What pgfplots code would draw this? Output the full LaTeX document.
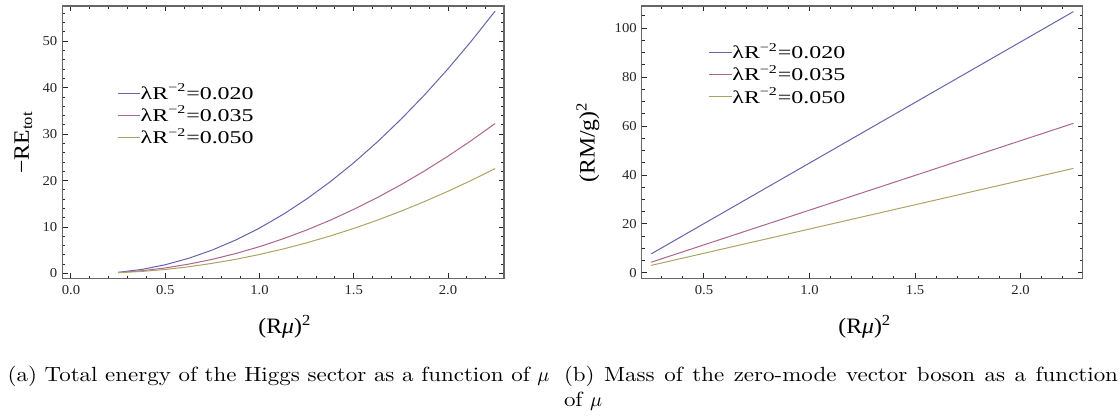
\documentclass[border=0pt]{standalone}
\usepackage{fontspec}
\usepackage{pgfplots}
\pgfplotsset{compat=1.18}

\newfontfamily\tms[FakeStretch=1.08]{Liberation Serif}
\newfontfamily\legf[FakeStretch=1.33]{Liberation Serif}
\newfontfamily\capf[FakeStretch=1.12]{Latin Modern Roman}

\definecolor{mblue}{rgb}{0.24,0.24,0.6}
\definecolor{mred}{rgb}{0.6,0.24,0.4428}
\definecolor{mgold}{rgb}{0.6,0.547,0.24}
\colorlet{cblue}{mblue!80!white}
\colorlet{cred}{mred!80!white}
\colorlet{cgold}{mgold!80!white}

\pgfplotsset{
  mma/.style={
    scale only axis,
    axis line style={black!60, line width=0.6pt},
    every tick/.style={black!85, line width=0.5pt},
    major tick length=2.6pt,
    minor tick length=1.4pt,
    tick align=inside,
    /pgf/number format/assume math mode=true,
    tick label style={font=\tms\fontsize{6.8}{8}\selectfont, text=black!85},
    xticklabel style={inner sep=0pt, yshift=-3.1pt},
    yticklabel style={inner sep=0pt, xshift=-2.3pt},
    label style={font=\tms\fontsize{11}{13}\selectfont},
    legend style={draw=none, fill=none, anchor=north west, inner sep=0pt,
      font=\legf\fontsize{9}{11}\selectfont,
      nodes={inner sep=0pt, text height=7.5pt, text depth=3.6pt},
      column sep=0pt, row sep=0pt, cells={anchor=base west}},
    legend image code/.code={\draw[#1, line width=0.55pt] (0pt,3.1pt) -- (11.3pt,3.1pt);},
    every axis plot/.append style={line width=0.5pt, no marks},
  }
}

\begin{document}
\begin{tikzpicture}
\path[use as bounding box] (0,0) rectangle (560pt,208pt);

% (a) total energy
\begin{axis}[mma,
  at={(31.15pt,68.65pt)}, anchor=south west,
  width=220.85pt, height=136.35pt,
  xmin=-0.046, xmax=2.297, ymin=-1.13, ymax=57.6,
  xtick={0,0.5,1.0,1.5,2.0},
  minor xtick={0.1,0.2,0.3,0.4,0.6,0.7,0.8,0.9,1.1,1.2,1.3,1.4,1.6,1.7,1.8,1.9,2.1,2.2},
  ytick={0,10,20,30,40,50},
  minor ytick={2,4,6,8,12,14,16,18,22,24,26,28,32,34,36,38,42,44,46,48,52,54,56},
  xticklabel style={/pgf/number format/.cd, fixed, fixed zerofill, precision=1},
  xlabel={(R\textit{μ})\textsuperscript{2}},
  ylabel={−RE\textsubscript{tot}},
  xlabel style={at={(axis description cs:0.504,-0.177)}, anchor=center},
  ylabel style={at={(axis description cs:-0.088,0.5)}, anchor=center},
  legend style={at={(axis description cs:0.123,0.714)}},
]
\addplot[draw=cblue] coordinates {
(0.25,0.24) (0.375,0.86) (0.5,1.87) (0.625,3.27) (0.75,5.05) (0.875,7.22)
(1.0,9.77) (1.125,12.71) (1.25,16.03) (1.375,19.74) (1.5,23.83) (1.625,28.32)
(1.75,33.19) (1.875,38.43) (2.0,44.07) (2.125,50.10) (2.25,56.51)};
\addplot[draw=cred] coordinates {
(0.25,0.19) (0.375,0.58) (0.5,1.18) (0.625,2.01) (0.75,3.04) (0.875,4.30)
(1.0,5.77) (1.125,7.46) (1.25,9.35) (1.375,11.46) (1.5,13.80) (1.625,16.34)
(1.75,19.09) (1.875,22.07) (2.0,25.26) (2.125,28.67) (2.25,32.29)};
\addplot[draw=cgold] coordinates {
(0.25,0.15) (0.375,0.43) (0.5,0.85) (0.625,1.44) (0.75,2.18) (0.875,3.05)
(1.0,4.09) (1.125,5.26) (1.25,6.59) (1.375,8.07) (1.5,9.69) (1.625,11.47)
(1.75,13.40) (1.875,15.48) (2.0,17.70) (2.125,20.07) (2.25,22.59)};
\legend{λR\textsuperscript{−2}=0.020, λR\textsuperscript{−2}=0.035, λR\textsuperscript{−2}=0.050}
\end{axis}

% (b) vector boson mass
\begin{axis}[mma,
  at={(320.85pt,68.65pt)}, anchor=south west,
  width=220.5pt, height=136.35pt,
  xmin=0.205, xmax=2.294, ymin=-2.33, ymax=109,
  xtick={0.5,1.0,1.5,2.0},
  minor xtick={0.3,0.4,0.6,0.7,0.8,0.9,1.1,1.2,1.3,1.4,1.6,1.7,1.8,1.9,2.1,2.2},
  ytick={0,20,40,60,80,100},
  minor ytick={5,10,15,25,30,35,45,50,55,65,70,75,85,90,95,105},
  xticklabel style={/pgf/number format/.cd, fixed, fixed zerofill, precision=1},
  xlabel={(R\textit{μ})\textsuperscript{2}},
  ylabel={(RM/g)\textsuperscript{2}},
  xlabel style={at={(axis description cs:0.506,-0.177)}, anchor=center},
  ylabel style={at={(axis description cs:-0.122,0.5)}, anchor=center},
  legend style={at={(axis description cs:0.151,0.863)}},
]
\addplot[draw=cblue] coordinates {(0.25,7.8) (1.25,57.25) (2.25,106.7)};
\addplot[draw=cred] coordinates {(0.25,4.4) (1.25,32.75) (2.25,61.1)};
\addplot[draw=cgold] coordinates {(0.25,3.1) (1.25,22.9) (2.25,42.7)};
\legend{λR\textsuperscript{−2}=0.020, λR\textsuperscript{−2}=0.035, λR\textsuperscript{−2}=0.050}
\end{axis}

\node[anchor=base west, inner sep=0pt, font=\capf\fontsize{10.25}{12.5}\selectfont]
  at (3.6pt,17.15pt) {(a) Total energy of the Higgs sector as a function of $\mu$};
\node[anchor=base west, inner sep=0pt, text width=277pt, align=justify,
  font=\capf\fontsize{10.25}{12.5}\selectfont]
  at (281.8pt,17.15pt) {(b) Mass of the zero-mode vector boson as a function\linebreak of $\mu$};
\end{tikzpicture}
\end{document}
